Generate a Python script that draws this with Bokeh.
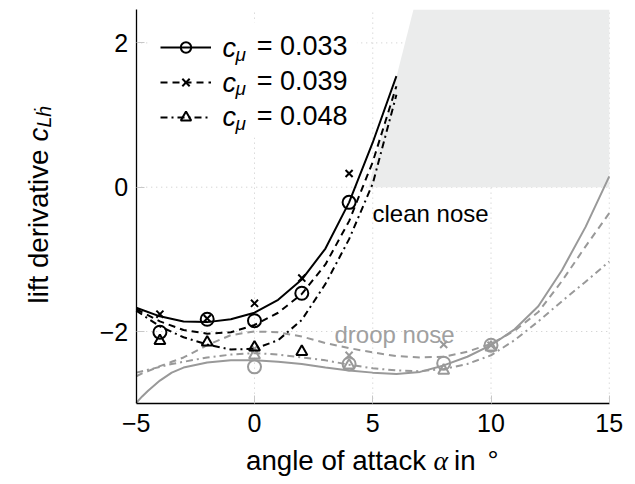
import math
from bokeh.plotting import figure
from bokeh.models import FixedTicker, Label, Legend, LegendItem, BoxAnnotation
from bokeh.embed import file_html
from bokeh.resources import INLINE

# ---------------- data ----------------
alpha_clean = [-5, -4, -3, -2, -1, 0, 1, 2, 3, 4, 5, 6]
clean_033 = [-1.67, -1.79, -1.86, -1.87, -1.83, -1.74, -1.56, -1.28, -0.85, -0.21, 0.62, 1.54]
clean_039 = [-1.69, -1.86, -1.98, -2.03, -2.01, -1.91, -1.74, -1.48, -1.07, -0.47, 0.35, 1.40]
clean_048 = [-1.71, -1.93, -2.08, -2.18, -2.25, -2.24, -2.12, -1.84, -1.34, -0.72, 0.05, 1.28]

alpha_droop = [-5, -4.75, -4.5, -4, -3.5, -3, -2, -1, 0, 1, 2, 3, 4, 5, 6, 7, 8, 9, 10,
               11, 12, 13, 14, 15]
droop_033 = [-2.99, -2.90, -2.82, -2.68, -2.57, -2.50, -2.43, -2.40, -2.40, -2.42, -2.45,
             -2.50, -2.54, -2.57, -2.59, -2.56, -2.47, -2.35, -2.19, -1.97, -1.65, -1.15,
             -0.55, 0.15]
droop_039 = [-2.62, -2.58, -2.55, -2.48, -2.42, -2.36, -2.19, -2.05, -2.00, -2.01, -2.07,
             -2.16, -2.23, -2.29, -2.34, -2.36, -2.35, -2.28, -2.17, -1.99, -1.73, -1.30,
             -0.82, -0.36]
droop_048 = [-2.57, -2.55, -2.53, -2.49, -2.45, -2.42, -2.36, -2.32, -2.30, -2.32, -2.36,
             -2.40, -2.46, -2.51, -2.54, -2.55, -2.52, -2.45, -2.33, -2.12, -1.86, -1.58,
             -1.31, -1.03]

# measured points
clean_meas_alpha = [-4, -2, 0, 2, 4]
clean_meas_033 = [-2.01, -1.83, -1.85, -1.47, -0.21]
clean_meas_039 = [-1.76, -1.82, -1.61, -1.26, 0.19]
clean_meas_alpha_048 = [-4, -2, 0, 2]
clean_meas_048 = [-2.13, -2.15, -2.22, -2.28]

droop_meas_alpha = [0, 4, 8, 10]
droop_meas_033 = [-2.49, -2.45, -2.44, -2.19]
droop_meas_039 = [-2.24, -2.33, -2.18, -2.19]
droop_meas_048 = [-2.33, -2.47, -2.54, -2.22]

# shaded region
region_alpha = [4.82, 6.72, 15, 15]
region_c = [0, 2.46, 2.46, 0]

legend_labels = ["= 0.033", "= 0.039", "= 0.048"]
x_ticks = [-5, 0, 5, 10, 15]
y_ticks = [-2, 0, 2]
x_min, x_max = -5, 15
y_min, y_max = -3, 2.46

# ---------------- layout ----------------
W, H = 635, 484
PX_PER_X, PX_PER_Y = 23.65, 72.15
X0 = -10.74            # data x at left canvas edge
Y0 = 2.5877            # data y at top canvas edge
FONT = "Liberation Sans"
MATH_FONT = "Liberation Serif"
BLACK = "#000000"
GREY = "#999999"
DASH = "7 5"
DASHDOT = "7 4 2 4"
LABEL_FS = "27.7px"


def ax_(px):
    return X0 + px / PX_PER_X


def ay_(py):
    return Y0 - py / PX_PER_Y


p = figure(frame_width=W, frame_height=H,
           x_range=(X0, X0 + W / PX_PER_X), y_range=(Y0 - H / PX_PER_Y, Y0),
           output_backend="svg", toolbar_location=None,
           min_border=0)
p.outline_line_color = None
p.background_fill_color = "white"
p.xgrid.visible = False
p.ygrid.visible = False

p.xaxis.fixed_location = y_min
p.yaxis.fixed_location = x_min
p.xaxis.bounds = (x_min, x_max)
p.yaxis.bounds = (y_min, y_max)
for ax in (p.xaxis[0], p.yaxis[0]):
    ax.axis_line_color = "black"
    ax.axis_line_width = 1.3
    ax.major_tick_in = 8
    ax.major_tick_out = 0
    ax.major_tick_line_color = "#c8c8c8"
    ax.major_tick_line_width = 1
    ax.minor_tick_line_color = None
    ax.major_label_text_font = FONT
    ax.major_label_text_font_size = "25px"
    ax.major_label_text_color = "black"

p.xaxis.ticker = FixedTicker(ticks=x_ticks)
p.yaxis.ticker = FixedTicker(ticks=y_ticks)
p.xaxis.major_label_overrides = {t: ("\u2212" + str(-t) if t < 0 else str(t)) for t in x_ticks}
p.yaxis.major_label_overrides = {t: ("\u2212" + str(-t) if t < 0 else str(t)) for t in y_ticks}
p.xaxis.major_label_standoff = 10
p.yaxis.major_label_standoff = 8

# dotted grid, limited to the axes box
gx = [t for t in x_ticks if t > x_min]
p.segment(x0=gx, y0=[y_min] * len(gx), x1=gx, y1=[y_max] * len(gx),
          line_color="#c8c8c8", line_dash="1 4", line_width=1, level="underlay")
p.segment(x0=[x_min] * len(y_ticks), y0=y_ticks, x1=[x_max] * len(y_ticks), y1=y_ticks,
          line_color="#c8c8c8", line_dash="1 4", line_width=1, level="underlay")

# white backing of the legend box (hides the grid there)
p.add_layout(BoxAnnotation(left=ax_(150), right=ax_(357), top=ay_(22), bottom=ay_(137),
                           fill_color="white", fill_alpha=1, line_color=None,
                           level="glyph"))

# shaded region
p.patch(region_alpha, region_c, fill_color="#ebecec", line_color=None)

# droop nose (grey)
p.line(alpha_droop, droop_033, line_color=GREY, line_width=2)
p.line(alpha_droop, droop_039, line_color=GREY, line_width=2, line_dash=DASH)
p.line(alpha_droop, droop_048, line_color=GREY, line_width=2, line_dash=DASHDOT)
p.scatter(droop_meas_alpha, droop_meas_033, marker="circle", size=13, fill_color=None,
          line_color=GREY, line_width=2)
p.scatter(droop_meas_alpha, droop_meas_039, marker="x", size=10, line_color=GREY, line_width=2)
p.scatter(droop_meas_alpha, droop_meas_048, marker="triangle", size=11, fill_color=None,
          line_color=GREY, line_width=2)

# clean nose (black)
l1 = p.line(alpha_clean, clean_033, line_color=BLACK, line_width=2)
l2 = p.line(alpha_clean, clean_039, line_color=BLACK, line_width=2, line_dash=DASH)
l3 = p.line(alpha_clean, clean_048, line_color=BLACK, line_width=2, line_dash=DASHDOT)
m1 = p.scatter(clean_meas_alpha, clean_meas_033, marker="circle", size=13, fill_color=None,
               line_color=BLACK, line_width=2)
m2 = p.scatter(clean_meas_alpha, clean_meas_039, marker="x", size=10, line_color=BLACK, line_width=2)
m3 = p.scatter(clean_meas_alpha_048, clean_meas_048, marker="triangle", size=11, fill_color=None,
               line_color=BLACK, line_width=2)

legend = Legend(items=[LegendItem(label=legend_labels[0], renderers=[l1, m1]),
                       LegendItem(label=legend_labels[1], renderers=[l2, m2]),
                       LegendItem(label=legend_labels[2], renderers=[l3, m3])],
                location=(159.7, 352), margin=0, padding=10, spacing=4,
                glyph_width=51, glyph_height=26, label_height=26, label_standoff=46,
                label_text_font=FONT, label_text_font_size="27px",
                label_text_color="black",
                border_line_color=None, background_fill_alpha=0)
p.add_layout(legend)

# legend "c_mu" parts
for py in (46.5, 81.0, 115.5):
    p.add_layout(Label(x=ax_(222), y=ay_(py), text="c", text_font=FONT,
                       text_font_style="italic", text_font_size="27px", text_color="black",
                       text_baseline="middle", text_align="left", y_offset=-1))
    p.add_layout(Label(x=ax_(235), y=ay_(py), text="\u03bc", text_font=FONT,
                       text_font_style="italic", text_font_size="19px", text_color="black",
                       text_baseline="middle", text_align="left", y_offset=-7))

# annotations
p.add_layout(Label(x=ax_(372), y=ay_(213), text="clean nose", text_font=FONT,
                   text_font_size="24px", text_baseline="alphabetic", text_align="left",
                   text_color="black"))
p.add_layout(Label(x=ax_(334), y=ay_(334), text="droop nose", text_font=FONT,
                   text_font_size="24px", text_baseline="alphabetic", text_align="left",
                   text_color="#a0a0a0"))

# x axis label (pieces so that alpha is italic)
XL_BASE = 460
for txt, px, font, style in (("angle of attack", 245.5, FONT, "normal"),
                             ("\u03b1", 433, MATH_FONT, "italic"),
                             ("in", 453.5, FONT, "normal"),
                             ("\u00b0", 487, FONT, "normal")):
    p.add_layout(Label(x=ax_(px), y=ay_(XL_BASE), text=txt, text_font=font,
                       text_font_style=style, text_font_size=LABEL_FS,
                       text_color="black", text_baseline="alphabetic", text_align="left"))

# y axis label (rotated, reading upwards)
YL_BASE = 37.5
p.add_layout(Label(x=ax_(YL_BASE), y=ay_(303), text="lift derivative", text_font=FONT,
                   text_font_size=LABEL_FS, text_color="black", text_baseline="alphabetic",
                   text_align="left", angle=math.pi / 2))
p.add_layout(Label(x=ax_(YL_BASE), y=ay_(141), text="c", text_font=FONT,
                   text_font_style="italic", text_font_size=LABEL_FS, text_color="black",
                   text_baseline="alphabetic", text_align="left", angle=math.pi / 2))
p.add_layout(Label(x=ax_(YL_BASE + 5.5), y=ay_(127), text="L\u1e23", text_font=FONT,
                   text_font_style="italic", text_font_size="19.5px", text_color="black",
                   text_baseline="alphabetic", text_align="left", angle=math.pi / 2))

open("out.html", "w").write(file_html(p, INLINE))
